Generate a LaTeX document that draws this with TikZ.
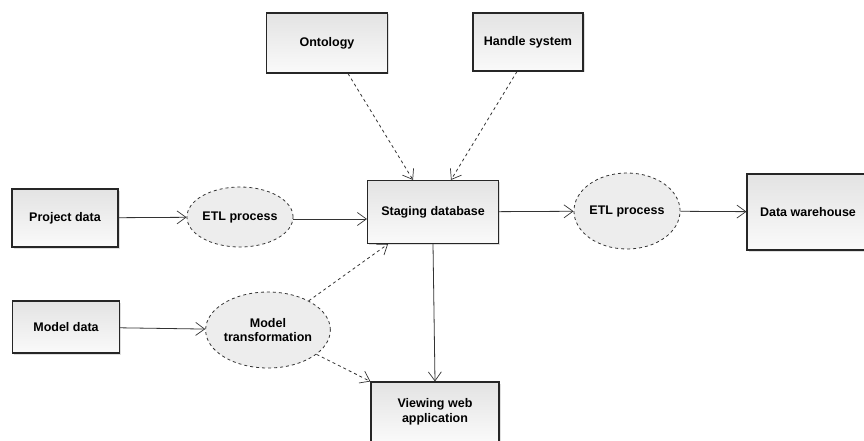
\documentclass[tikz,border=0pt]{standalone}
\usepackage{fontspec}
\setmainfont{Liberation Sans}
\usetikzlibrary{shapes.geometric,arrows.meta,shadows}

\begin{document}
\begin{tikzpicture}[x=1pt,y=-1pt,
    font=\fontsize{12.5}{14.5}\selectfont\bfseries,
    box/.style={draw=black!85,line width=1.1pt,rectangle,align=center,
      top color=black!11,bottom color=black!2,
      drop shadow={opacity=0.25,shadow xshift=1.5pt,shadow yshift=-1.5pt}},
    proc/.style={draw=black!80,dashed,line width=0.8pt,ellipse,inner sep=0pt,
      fill=black!7,align=center},
    flow/.style={draw=black!80,line width=0.8pt,
      -{Straight Barb[length=9pt,width=13pt,line width=0.7pt]}},
    feed/.style={flow,dashed}]
  \useasboundingbox (0,0) rectangle (864,441);

  %% sources
  \node[box,minimum width=106pt,minimum height=58pt] (proj) at (65,218) {Project data};
  \node[box,minimum width=107pt,minimum height=52pt] (model) at (66,327) {Model data};
  \node[box,minimum width=121pt,minimum height=60pt] (onto) at (327,43) {Ontology};
  \node[box,minimum width=110pt,minimum height=58pt] (handle) at (528,42) {Handle system};

  %% processes
  \node[proc,minimum width=95pt,minimum height=60pt] (etlA) at (240,217) {ETL process};
  \node[proc,minimum width=100pt,minimum height=76pt] (trans) at (268,330) {Model\\transformation};
  \node[proc,minimum width=100pt,minimum height=76pt] (etlB) at (627,211) {ETL process};

  %% stores
  \node[box,minimum width=131pt,minimum height=63pt] (stage) at (433,212) {Staging database};
  \node[box,minimum width=122pt,minimum height=76pt] (dw) at (808,212) {Data warehouse};
  \node[box,minimum width=128pt,minimum height=60pt] (view) at (435,412) {Viewing web\\application};

  %% main flow
  \draw[flow] (proj) -- (etlA);
  \draw[flow] ([yshift=-2pt]etlA.east) -- ([yshift=-2pt]etlA.east -| stage.west);
  \draw[flow] (stage) -- (etlB);
  \draw[flow] (etlB) -- (dw);
  \draw[flow] (model) -- (trans);
  \draw[flow] (stage.south) -- (view.north);

  %% side inputs
  \draw[feed] ([xshift=21pt]onto.south) -- ([xshift=-20pt]stage.north);
  \draw[feed] ([xshift=-11pt]handle.south) -- ([xshift=18pt]stage.north);
  \draw[feed] (trans) -- ([xshift=-45pt]stage.south);
  \draw[feed] (trans) -- (view.north west);
\end{tikzpicture}
\end{document}
